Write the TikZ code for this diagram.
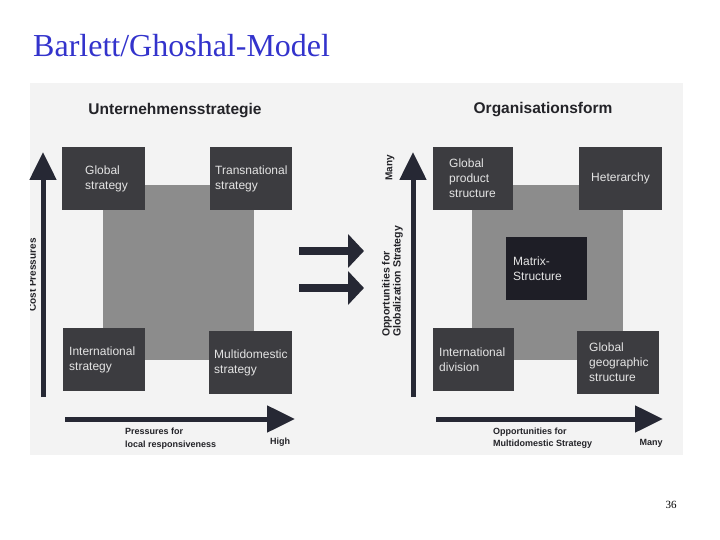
\documentclass[tikz,border=0pt]{standalone}
\usepackage{fontspec}
\setmainfont{Liberation Serif}
\newfontfamily\arialfont{Liberation Sans}
\usetikzlibrary{arrows.meta}
\definecolor{titleblue}{RGB}{51,51,204}
\definecolor{scanbg}{RGB}{243,243,243}
\definecolor{boxdark}{RGB}{60,60,64}
\definecolor{matrixdark}{RGB}{30,30,38}
\definecolor{midgray}{RGB}{140,140,140}
\definecolor{arrowdark}{RGB}{38,40,52}
\definecolor{boxtext}{RGB}{228,228,228}
\definecolor{labeldark}{RGB}{35,35,40}
\begin{document}
\begin{tikzpicture}[x=1pt,y=-1pt,
  box/.style={fill=boxdark, draw=none, anchor=north west, align=left,
    text=boxtext, font=\arialfont\fontsize{12}{15}\selectfont,
    minimum height=63pt, inner ysep=0pt},
  square/.style={fill=midgray, draw=none},
  axis/.style={draw=arrowdark, line width=5pt, -{Triangle[length=28pt,width=26pt]}},
  bigarrow/.style={draw=arrowdark, line width=8pt, -{Triangle[length=16pt,width=33pt]}},
  axlabel/.style={text=labeldark, font=\arialfont\bfseries\fontsize{9}{12.5}\selectfont, inner sep=0pt},
  paneltitle/.style={text=labeldark, font=\arialfont\bfseries\fontsize{15.5}{18}\selectfont, inner sep=0pt}
]
\useasboundingbox (0,0) rectangle (720,540);
\fill[white] (0,0) rectangle (720,540);

% title
\node[anchor=base west, inner sep=0pt, text=titleblue, font=\fontsize{32}{36}\selectfont] (title) at (33,57) {Barlett/Ghoshal-Model};

% scanned figure background
\fill[scanbg] (30,83) rectangle (683,455);

% ---------- left panel ----------
\node[paneltitle] (lt) at (175,111) {Unternehmensstrategie};
\fill[square] (103,185) rectangle (254,360);

\node[box, text width=37pt, inner xsep=23pt] (gs) at (62,147) {Global\\strategy};
\node[box, text width=72pt, inner xsep=5pt] (ts) at (210,147) {Transnational\\strategy};
\node[box, text width=70pt, inner xsep=6pt] (is) at (63,328) {International\\strategy};
\node[box, text width=73pt, inner xsep=5pt] (ms) at (209,331) {Multidomestic\\strategy};

\coordinate (lvb) at (43,397);
\coordinate (lvt) at (43,152);
\draw[axis] (lvb) -- (lvt);
\begin{scope}
\clip (30,0) rectangle (720,540);
\node[axlabel, rotate=90, font=\arialfont\bfseries\fontsize{10}{12}\selectfont] (cp) at (32.5,275) {Cost Pressures};
\end{scope}

\coordinate (lhl) at (65,419);
\coordinate (lhr) at (295,419);
\draw[axis] (lhl) -- (lhr);
\node[axlabel, anchor=west, align=left] (plr) at (125,438.5) {Pressures for\\local responsiveness};
\node[axlabel] (high) at (280,442) {High};

% ---------- middle arrows ----------
\coordinate (a1s) at (299,251);
\coordinate (a1e) at (364,251);
\coordinate (a2s) at (299,288);
\coordinate (a2e) at (364,288);
\draw[bigarrow] (a1s) -- (a1e);
\draw[bigarrow] (a2s) -- (a2e);

% ---------- right panel ----------
\node[paneltitle] (rt) at (543,110) {Organisationsform};
\fill[square] (472,185) rectangle (623,360);

\node[box, text width=48pt, inner xsep=16pt] (gps) at (433,147) {Global\\product\\structure};
\node[box, text width=59pt, inner xsep=12pt] (het) at (579,147) {Heterarchy};
\node[box, fill=matrixdark, text width=67pt, inner xsep=7pt] (mat) at (506,237) {Matrix-\\Structure};
\node[box, text width=69pt, inner xsep=6pt] (idv) at (433,328) {International\\division};
\node[box, text width=58pt, inner xsep=12pt] (ggs) at (577,331) {Global\\geographic\\structure};

\coordinate (rvb) at (413,397);
\coordinate (rvt) at (413,152);
\draw[axis] (rvb) -- (rvt);
\node[axlabel, rotate=90, font=\arialfont\bfseries\fontsize{10}{12}\selectfont] (many1) at (390,168) {Many};
\node[axlabel, rotate=90, anchor=west, align=left, font=\arialfont\bfseries\fontsize{10.5}{11}\selectfont] (ogs) at (392.5,337) {Opportunities for\\Globalization Strategy};

\coordinate (rhl) at (436,419);
\coordinate (rhr) at (663,419);
\draw[axis] (rhl) -- (rhr);
\node[axlabel, anchor=west, align=left] (oms) at (493,438) {Opportunities for\\Multidomestic Strategy};
\node[axlabel] (many2) at (651,443) {Many};

% page number
\node[inner sep=0pt, font=\fontsize{11}{13}\selectfont] (pg) at (671,505) {36};
\end{tikzpicture}
\end{document}
